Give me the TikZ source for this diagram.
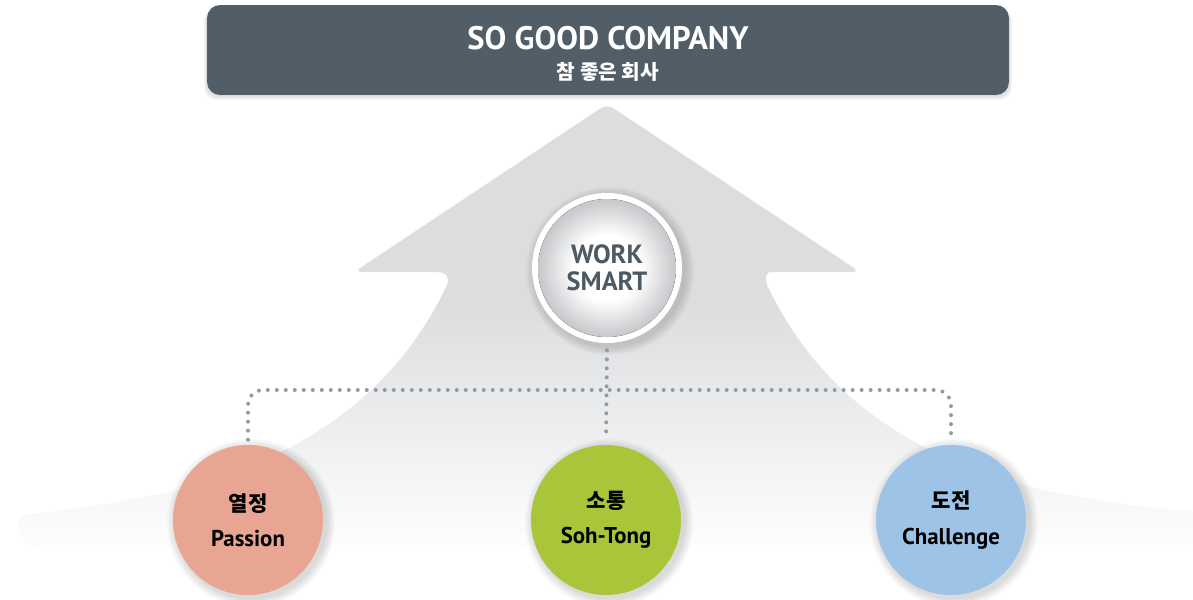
\documentclass[tikz,border=0pt]{standalone}
\usepackage{fontspec}
\setmainfont{PT Sans}
\newfontfamily\kor{Noto Sans CJK KR}
\usetikzlibrary{calc, fadings}
\definecolor{boxgray}{HTML}{525E67}
\definecolor{arrowgray}{HTML}{DCDDDF}
\definecolor{orbgray}{HTML}{C6C7CA}
\definecolor{orbtext}{HTML}{4E5A63}
\definecolor{dotblue}{HTML}{8D9DA8}
\definecolor{passion}{HTML}{E8A592}
\definecolor{sohtong}{HTML}{A9C53A}
\definecolor{challenge}{HTML}{9DC4E7}
\tikzfading[name=fadeup, top color=transparent!100, bottom color=transparent!0]
\pgfdeclareradialshading{orbshade}{\pgfpoint{0bp}{0bp}}{color(0bp)=(white); color(12bp)=(white); color(25bp)=(orbgray); color(50bp)=(orbgray)}

\begin{document}
\begin{tikzpicture}[x=0.02cm, y=-0.02cm,
    value/.style={circle, minimum size=3cm, inner sep=0pt, align=center, text=black, font=\fontsize{13}{20}\selectfont\bfseries},
    dots/.style={draw=dotblue, line width=0.08cm, line cap=round, dash pattern=on 0pt off 0.18cm}]
  \useasboundingbox (0,0) rectangle (1193,599);
  % big arrow behind everything, washed out towards the bottom
  \fill[arrowgray] (40,548) .. controls (20,548) and (14,525) .. (20,516) .. controls (50,511) and (100,507) .. (170,492) .. controls (300,460) and (395,395) .. (447,285) .. controls (450,276) and (446,272) .. (436,272) [rounded corners=0.16cm] -- (354,272) -- (607,104) -- (860,272) -- (778,272) [sharp corners] .. controls (768,272) and (764,276) .. (767,285) .. controls (819,395) and (914,460) .. (1044,490) .. controls (1114,505) and (1164,510) .. (1230,514) -- (1230,548) -- cycle;
  \fill[white, path fading=fadeup] (-10,300) rectangle (1240,552);
  \fill[white] (-10,552) rectangle (1240,610);
  % top box
  \foreach \k in {1,...,4} {\fill[black, opacity=0.035, rounded corners=0.26cm] (207-\k*0.8, 8) rectangle (1009+\k*0.8, 95+\k*1.3);}
  \node[fill=boxgray, rounded corners=0.26cm, minimum width=16.04cm, minimum height=1.8cm] (top) at (608,50) {};
  \node[text=white, font=\fontsize{18.5}{20}\selectfont\bfseries] (title) at (608,38) {SO GOOD COMPANY};
  \node[text=white, font=\kor\bfseries\fontsize{11.5}{13}\selectfont] (subtitle) at (608,72) {참 좋은 회사};
  % soft shadows
  \foreach \cx/\cy in {248/520, 606/520, 951/520, 607/268} {
    \foreach \k in {1,...,6} {\fill[black, opacity=0.022] (\cx+3,\cy+3) circle (75+\k*1.5);}
  }
  % work smart
  \node[circle, fill=white, minimum size=3cm, inner sep=0pt] (ws) at (607,268) {};
  \fill[shading=orbshade] (ws.center) circle (69);
  \node[text=orbtext, align=center, font=\fontsize{15}{15.5}\selectfont\bfseries] (wstext) at (ws.center) {WORK\\SMART};
  % values
  \node[value, fill=passion] (pas) at (248,520) {{\kor\fontsize{12}{20}\selectfont 열정}\\Passion};
  \node[value, fill=sohtong] (soh) at (606,520) {{\kor\fontsize{12}{20}\selectfont 소통}\\Soh-Tong};
  \node[value, fill=challenge] (cha) at (951,520) {{\kor\fontsize{12}{20}\selectfont 도전}\\Challenge};
  % dotted links
  \coordinate (hub) at (607,390);
  \draw[dots, shorten <=0.14cm, shorten >=0.1cm] (ws.south) -- (soh.north);
  \draw[dots, rounded corners=0.3cm, shorten <=0.1cm, shorten >=0.1cm] (pas.north) -- (pas.north |- hub) -- (cha.north |- hub) -- (cha.north);
\end{tikzpicture}
\end{document}
